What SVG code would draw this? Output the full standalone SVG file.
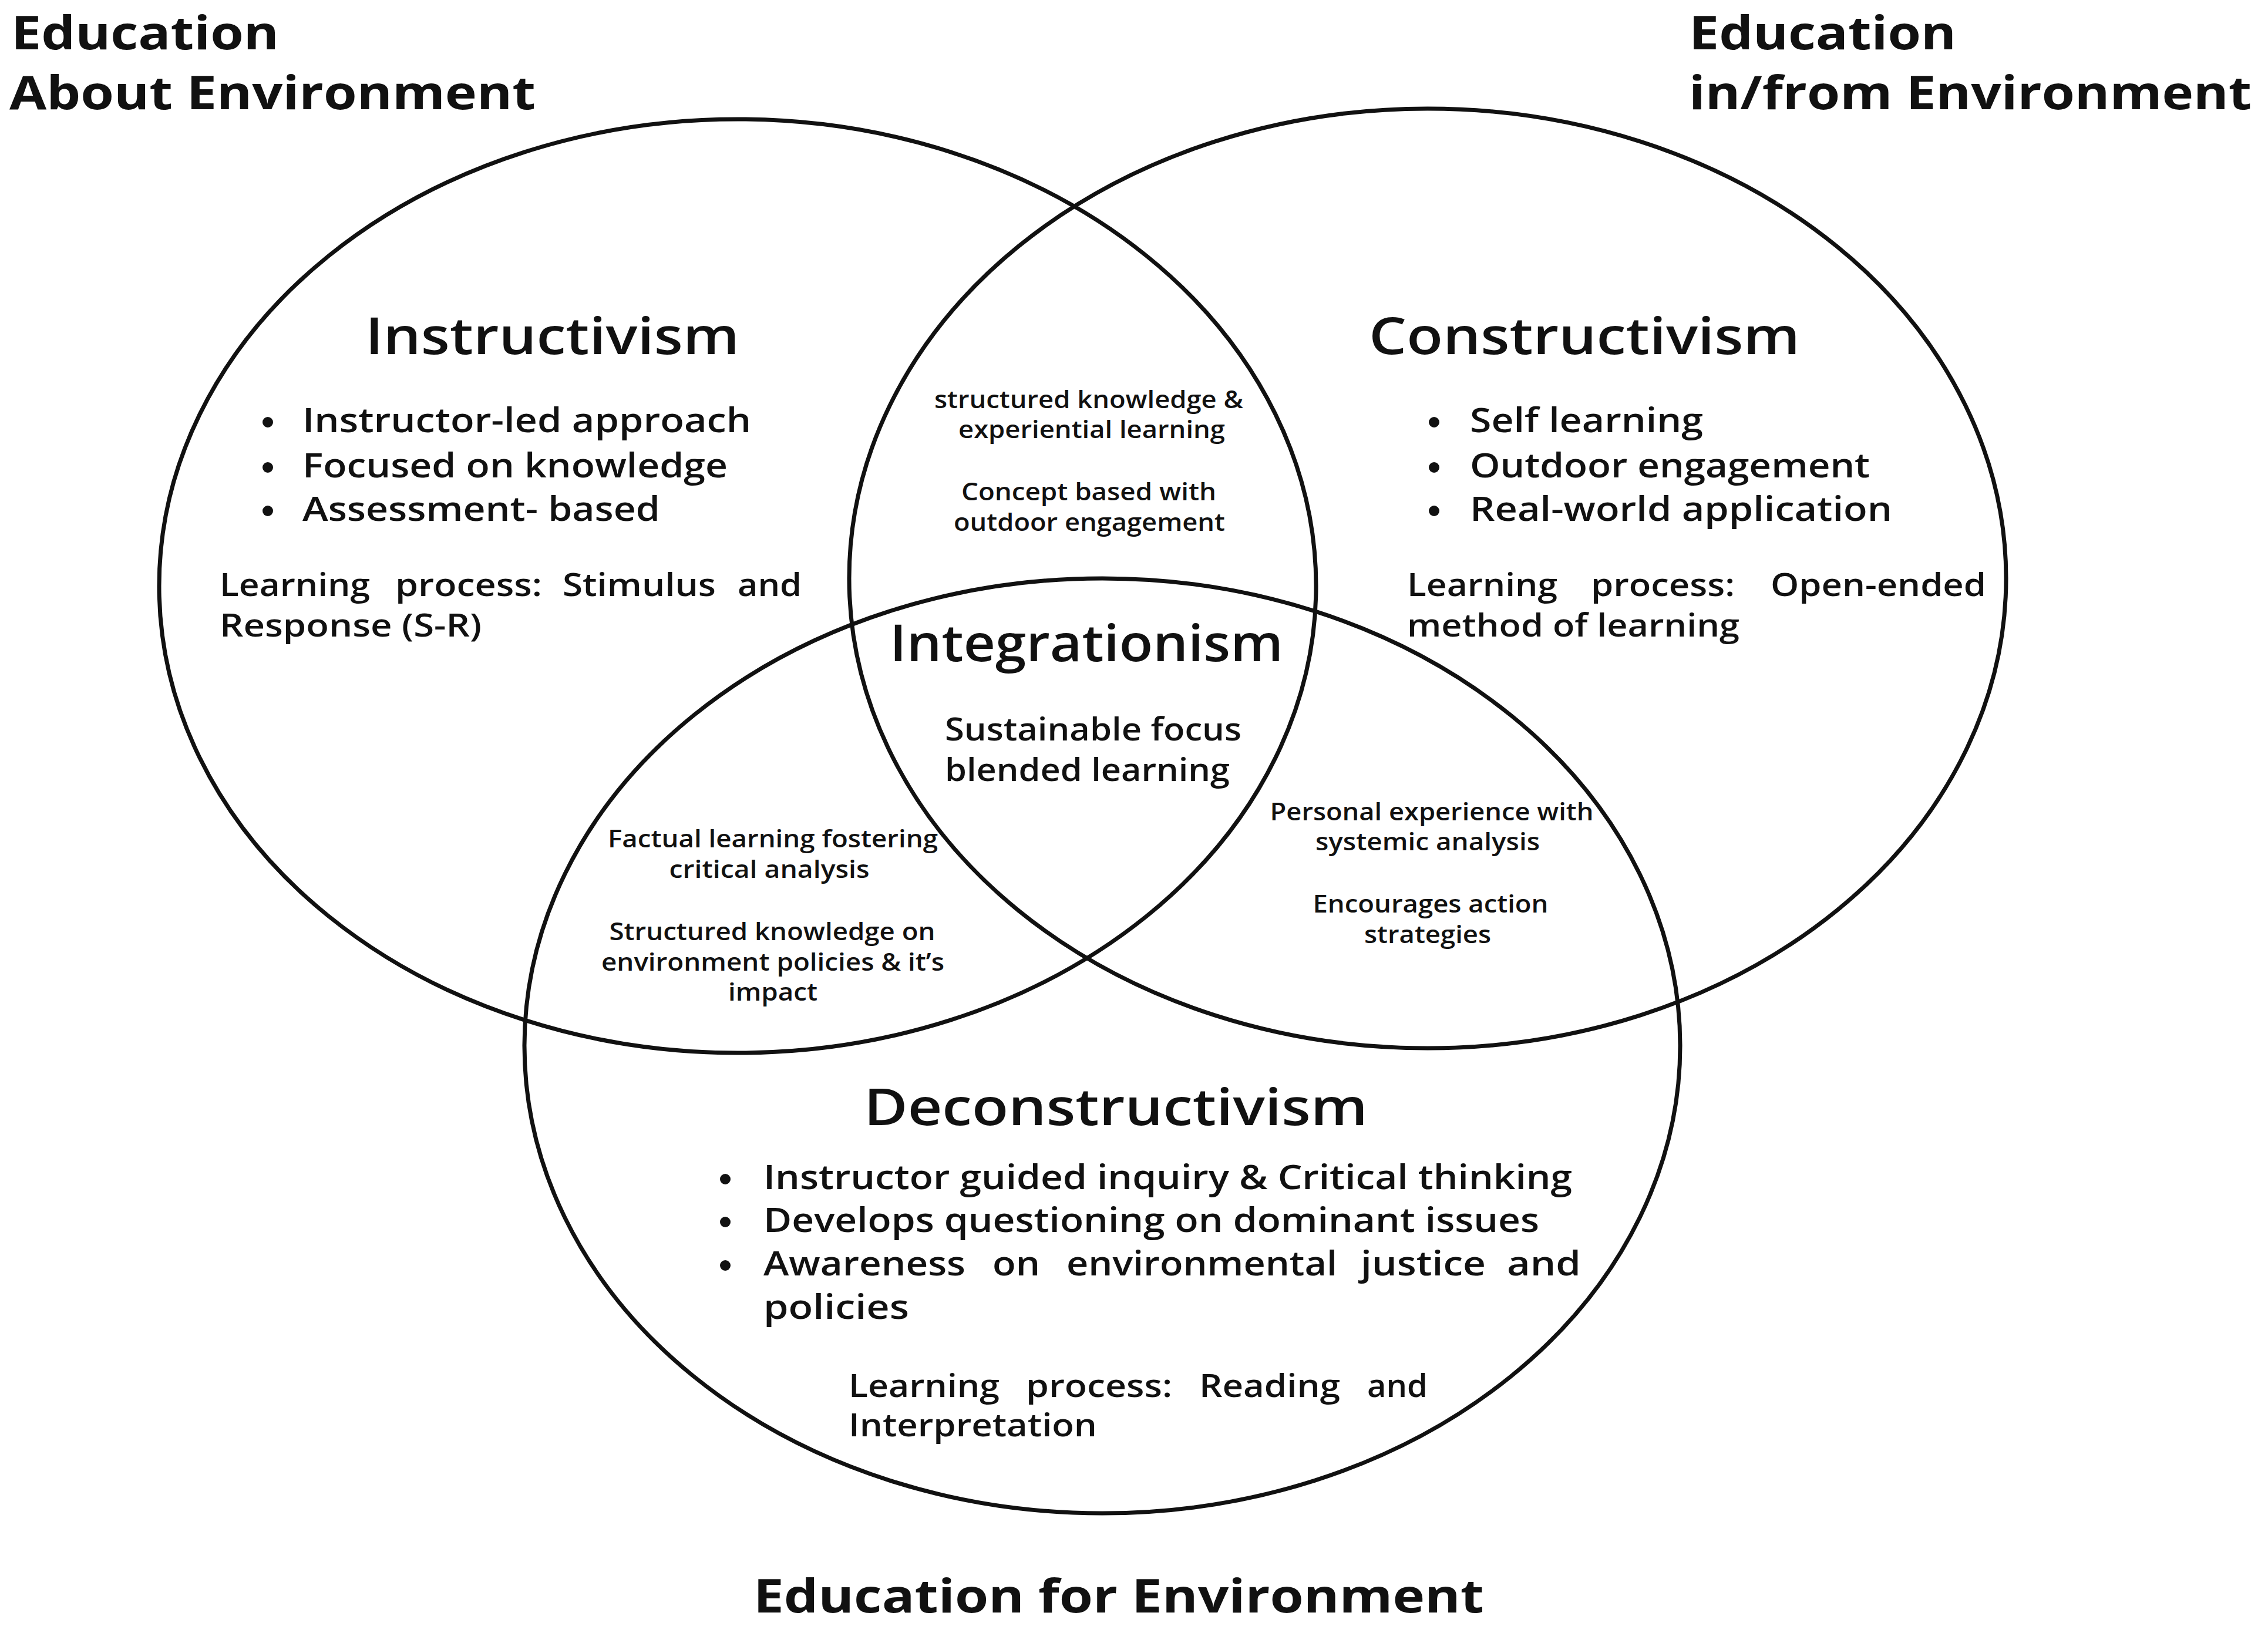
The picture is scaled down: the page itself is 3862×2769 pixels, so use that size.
<svg xmlns="http://www.w3.org/2000/svg" width="3862" height="2769" viewBox="0 0 3862 2769">
<style>
text{font-family:"Open Sans","Noto Sans","Liberation Sans",sans-serif;fill:#111;}
.circ{fill:none;stroke:#111;stroke-width:7;}
.lab{font-size:78px;font-weight:700;}
.title{font-size:86px;font-weight:600;}
.bul{font-size:57px;font-weight:600;}
.lp{font-size:54px;font-weight:600;}
.sm{font-size:41px;font-weight:600;text-anchor:middle;}
.mid{font-size:55px;font-weight:600;}
.dot{fill:#111;}
</style>
<rect width="3862" height="2769" fill="#fff"/>

<g id="circles">
<ellipse id="circle-about" class="circ" cx="1256" cy="998" rx="985" ry="795"/>
<ellipse id="circle-infrom" class="circ" cx="2431" cy="985" rx="985" ry="800"/>
<ellipse id="circle-for" class="circ" cx="1877" cy="1781" rx="984" ry="796"/>
</g>

<g id="label-about">
<text class="lab" x="19" y="84" textLength="456" lengthAdjust="spacingAndGlyphs">Education</text>
<text class="lab" x="16" y="186" textLength="896" lengthAdjust="spacingAndGlyphs">About Environment</text>
</g>
<g id="label-infrom">
<text class="lab" x="2876" y="84" textLength="455" lengthAdjust="spacingAndGlyphs">Education</text>
<text class="lab" x="2876" y="186" textLength="958" lengthAdjust="spacingAndGlyphs">in/from Environment</text>
</g>
<g id="label-for">
<text class="lab" x="1283" y="2746" textLength="1244" lengthAdjust="spacingAndGlyphs">Education for Environment</text>
</g>

<g id="instructivism">
<text class="title" x="622" y="603" textLength="637" lengthAdjust="spacingAndGlyphs">Instructivism</text>
<circle class="dot" cx="456" cy="719" r="9"/>
<circle class="dot" cx="456" cy="796" r="9"/>
<circle class="dot" cx="456" cy="870" r="9"/>
<text class="bul" x="515" y="736" textLength="764" lengthAdjust="spacingAndGlyphs">Instructor-led approach</text>
<text class="bul" x="515" y="813" textLength="724" lengthAdjust="spacingAndGlyphs">Focused on knowledge</text>
<text class="bul" x="515" y="887" textLength="609" lengthAdjust="spacingAndGlyphs">Assessment- based</text>
<text class="lp" x="374" y="1015" textLength="256" lengthAdjust="spacingAndGlyphs">Learning</text>
<text class="lp" x="673" y="1015" textLength="250" lengthAdjust="spacingAndGlyphs">process:</text>
<text class="lp" x="958" y="1015" textLength="261" lengthAdjust="spacingAndGlyphs">Stimulus</text>
<text class="lp" x="1256" y="1015" textLength="109" lengthAdjust="spacingAndGlyphs">and</text>
<text class="lp" x="374" y="1084" textLength="446" lengthAdjust="spacingAndGlyphs">Response (S-R)</text>
</g>

<g id="constructivism">
<text class="title" x="2331" y="603" textLength="734" lengthAdjust="spacingAndGlyphs">Constructivism</text>
<circle class="dot" cx="2442" cy="719" r="9"/>
<circle class="dot" cx="2442" cy="796" r="9"/>
<circle class="dot" cx="2442" cy="870" r="9"/>
<text class="bul" x="2503" y="736" textLength="397" lengthAdjust="spacingAndGlyphs">Self learning</text>
<text class="bul" x="2503" y="813" textLength="681" lengthAdjust="spacingAndGlyphs">Outdoor engagement</text>
<text class="bul" x="2503" y="887" textLength="719" lengthAdjust="spacingAndGlyphs">Real-world application</text>
<text class="lp" x="2396" y="1015" textLength="256" lengthAdjust="spacingAndGlyphs">Learning</text>
<text class="lp" x="2709" y="1015" textLength="245" lengthAdjust="spacingAndGlyphs">process:</text>
<text class="lp" x="3015" y="1015" textLength="367" lengthAdjust="spacingAndGlyphs">Open-ended</text>
<text class="lp" x="2396" y="1084" textLength="566" lengthAdjust="spacingAndGlyphs">method of learning</text>
</g>

<g id="about-infrom">
<text class="sm" x="1854" y="695" textLength="526" lengthAdjust="spacingAndGlyphs">structured knowledge &amp;</text>
<text class="sm" x="1859" y="746" textLength="454" lengthAdjust="spacingAndGlyphs">experiential learning</text>
<text class="sm" x="1854" y="852" textLength="434" lengthAdjust="spacingAndGlyphs">Concept based with</text>
<text class="sm" x="1855" y="904" textLength="462" lengthAdjust="spacingAndGlyphs">outdoor engagement</text>
</g>

<g id="integrationism">
<text class="title" x="1515" y="1126" textLength="670" lengthAdjust="spacingAndGlyphs">Integrationism</text>
<text class="mid" x="1609" y="1261" textLength="505" lengthAdjust="spacingAndGlyphs">Sustainable focus</text>
<text class="mid" x="1609" y="1330" textLength="485" lengthAdjust="spacingAndGlyphs">blended learning</text>
</g>

<g id="about-for">
<text class="sm" x="1316" y="1443" textLength="562" lengthAdjust="spacingAndGlyphs">Factual learning fostering</text>
<text class="sm" x="1310" y="1495" textLength="341" lengthAdjust="spacingAndGlyphs">critical analysis</text>
<text class="sm" x="1315" y="1601" textLength="555" lengthAdjust="spacingAndGlyphs">Structured knowledge on</text>
<text class="sm" x="1316" y="1653" textLength="584" lengthAdjust="spacingAndGlyphs">environment policies &amp; it’s</text>
<text class="sm" x="1316" y="1704" textLength="152" lengthAdjust="spacingAndGlyphs">impact</text>
</g>

<g id="infrom-for">
<text class="sm" x="2438" y="1397" textLength="551" lengthAdjust="spacingAndGlyphs">Personal experience with</text>
<text class="sm" x="2431" y="1448" textLength="382" lengthAdjust="spacingAndGlyphs">systemic analysis</text>
<text class="sm" x="2436" y="1554" textLength="401" lengthAdjust="spacingAndGlyphs">Encourages action</text>
<text class="sm" x="2431" y="1606" textLength="216" lengthAdjust="spacingAndGlyphs">strategies</text>
</g>

<g id="deconstructivism">
<text class="title" x="1471" y="1916" textLength="858" lengthAdjust="spacingAndGlyphs">Deconstructivism</text>
<circle class="dot" cx="1235" cy="2008" r="9"/>
<circle class="dot" cx="1235" cy="2081" r="9"/>
<circle class="dot" cx="1235" cy="2155" r="9"/>
<text class="bul" x="1300" y="2025" textLength="1377" lengthAdjust="spacingAndGlyphs">Instructor guided inquiry &amp; Critical thinking</text>
<text class="bul" x="1300" y="2098" textLength="1321" lengthAdjust="spacingAndGlyphs">Develops questioning on dominant issues</text>
<text class="bul" x="1300" y="2172" textLength="344" lengthAdjust="spacingAndGlyphs">Awareness</text>
<text class="bul" x="1690" y="2172" textLength="81" lengthAdjust="spacingAndGlyphs">on</text>
<text class="bul" x="1816" y="2172" textLength="461" lengthAdjust="spacingAndGlyphs">environmental</text>
<text class="bul" x="2317" y="2172" textLength="213" lengthAdjust="spacingAndGlyphs">justice</text>
<text class="bul" x="2566" y="2172" textLength="126" lengthAdjust="spacingAndGlyphs">and</text>
<text class="bul" x="1300" y="2246" textLength="248" lengthAdjust="spacingAndGlyphs">policies</text>
<text class="lp" x="1445" y="2379" textLength="257" lengthAdjust="spacingAndGlyphs">Learning</text>
<text class="lp" x="1747" y="2379" textLength="249" lengthAdjust="spacingAndGlyphs">process:</text>
<text class="lp" x="2042" y="2379" textLength="240" lengthAdjust="spacingAndGlyphs">Reading</text>
<text class="lp" x="2328" y="2379" textLength="103" lengthAdjust="spacingAndGlyphs">and</text>
<text class="lp" x="1445" y="2446" textLength="423" lengthAdjust="spacingAndGlyphs">Interpretation</text>
</g>
</svg>
